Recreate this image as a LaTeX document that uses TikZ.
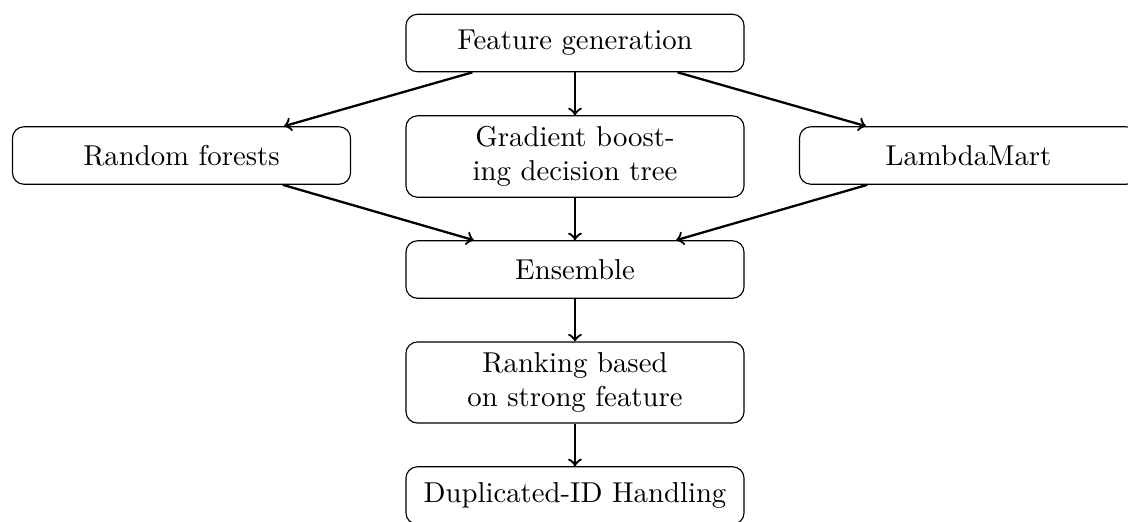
\documentclass[tikz,border=0pt]{standalone}
\usetikzlibrary{arrows}
\begin{document}
\begin{tikzpicture}[x=0.34783pt,y=-0.34783pt,
  box/.style={draw,rounded corners=4pt,minimum width=117.6pt,minimum height=20pt,align=center,inner sep=3.6pt},
  conn/.style={->,thick}]
\useasboundingbox (0,0) rectangle (1128,521);
\node[box] (fg) at (575,43) {Feature generation};
\node[box] (rf) at (181.5,155.5) {Random forests};
\node[box] (gb) at (575,156.5) {Gradient boost-\\ing decision tree};
\node[box] (lm) at (968.5,155.5) {LambdaMart};
\node[box] (en) at (575,269.5) {Ensemble};
\node[box] (rk) at (575,382.5) {Ranking based\\on strong feature};
\node[box] (dp) at (575,495.5) {Duplicated-ID Handling};
\draw[conn] (fg) -- (rf);
\draw[conn] (fg) -- (gb);
\draw[conn] (fg) -- (lm);
\draw[conn] (rf) -- (en);
\draw[conn] (gb) -- (en);
\draw[conn] (lm) -- (en);
\draw[conn] (en) -- (rk);
\draw[conn] (rk) -- (dp);
\end{tikzpicture}
\end{document}
